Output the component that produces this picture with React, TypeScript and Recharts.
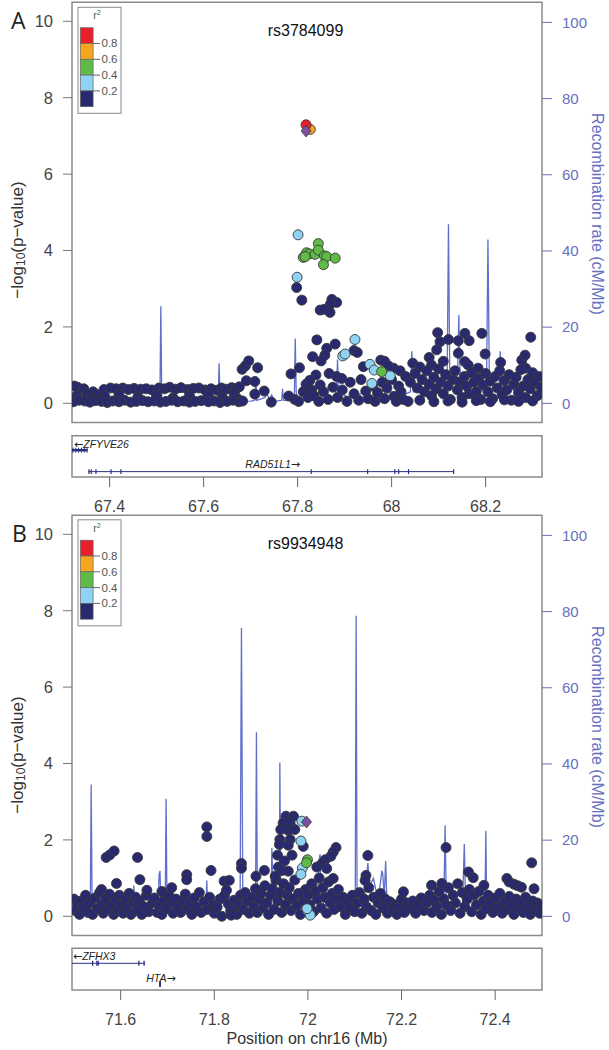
import { ComposedChart, Scatter, Line, XAxis, YAxis, ReferenceArea, ReferenceLine, ReferenceDot } from 'recharts'

type Pt = [number, number]

const NAVY = '#29296f'
const LBLUE = '#8fd2f2'
const GREEN = '#5fba46'
const ORANGE = '#f7a51e'
const RED = '#e9202a'
const PURPLE = '#7d4f9f'
const RECOMB = '#5e6fcc'
const AXISBLUE = '#6870bf'
const BORDER = '#8a8a8a'
const GENE = '#2b2f80'

// ---------- panel A (rs3784099) ----------
const aRange: Pt = [67.32, 68.32]
const aTicks = [67.4, 67.6, 67.8, 68, 68.2]

const aNavy: Pt[] = [
  // left band
  [67.325, 0.45], [67.332, 0.42], [67.345, 0.38], [67.352, 0.25], [67.365, 0.3], [67.378, 0.22], [67.388, 0.36], [67.402, 0.4],
  [67.414, 0.38], [67.428, 0.4], [67.44, 0.36], [67.452, 0.39], [67.466, 0.37], [67.478, 0.38], [67.49, 0.35], [67.505, 0.4],
  [67.517, 0.38], [67.528, 0.42], [67.54, 0.37], [67.552, 0.41], [67.566, 0.36], [67.578, 0.39], [67.59, 0.4], [67.603, 0.35],
  [67.616, 0.38], [67.628, 0.34], [67.638, 0.4], [67.648, 0.37], [67.66, 0.41], [67.668, 0.36], [67.676, 0.43],
  [67.33, 0.2], [67.36, 0.12], [67.39, 0.18], [67.42, 0.22], [67.46, 0.16], [67.5, 0.2], [67.535, 0.14], [67.57, 0.19],
  [67.61, 0.21], [67.64, 0.15], [67.665, 0.25], [67.672, 0.12],
  [67.323, 0.04], [67.335, 0.08], [67.347, 0.06], [67.358, 0.03], [67.37, 0.07], [67.383, 0.05], [67.395, 0.02], [67.407, 0.06],
  [67.42, 0.04], [67.432, 0.08], [67.445, 0.03], [67.457, 0.05], [67.47, 0.07], [67.482, 0.04], [67.495, 0.06], [67.508, 0.03],
  [67.52, 0.05], [67.532, 0.08], [67.545, 0.04], [67.558, 0.06], [67.57, 0.03], [67.582, 0.05], [67.595, 0.07], [67.61, 0.04],
  [67.622, 0.06], [67.635, 0.02], [67.65, 0.05], [67.662, 0.08], [67.675, 0.04], [67.683, 0.06],
  // 67.68 - 67.80
  [67.682, 0.89], [67.689, 0.98], [67.696, 1.11], [67.715, 0.93], [67.691, 0.59], [67.709, 0.57], [67.709, 0.24], [67.729, 0.32],
  [67.744, 0.03], [67.786, 0.77], [67.804, 0.93], [67.781, 0.19], [67.794, 0.1], [67.802, 0.05],
  // peak region
  [67.798, 3.03], [67.809, 2.7], [67.873, 2.72], [67.883, 2.64], [67.87, 2.6], [67.848, 2.44], [67.857, 2.46], [67.869, 2.38],
  [67.841, 1.66], [67.88, 1.55], [67.862, 1.44], [67.858, 1.26], [67.832, 1.22], [67.85, 1.11], [67.839, 0.74], [67.867, 0.78],
  [67.883, 0.7], [67.894, 0.65], [67.83, 0.35], [67.848, 0.48], [67.92, 1.38], [67.927, 1.33], [67.977, 1.13], [68.004, 0.92],
  [68.018, 0.85], [67.94, 0.96], [67.985, 1.1], [67.993, 0.98],
  [67.812, 0.3], [67.818, 0.5], [67.822, 0.15], [67.826, 0.6], [67.835, 0.2], [67.845, 0.05], [67.855, 0.3], [67.865, 0.1],
  [67.875, 0.42], [67.885, 0.15], [67.895, 0.35], [67.905, 0.05], [67.912, 0.55], [67.92, 0.25], [67.93, 0.08], [67.935, 0.62],
  [67.945, 0.32], [67.95, 0.12], [67.96, 0.45], [67.965, 0.05], [67.97, 0.28], [67.98, 0.55], [67.985, 0.12], [67.99, 0.4],
  [68.0, 0.62], [68.005, 0.18], [68.01, 0.05], [68.015, 0.45], [68.02, 0.3], [68.025, 0.1],
  // right side
  [68.098, 1.85], [68.103, 1.61], [68.121, 1.67], [68.096, 1.4], [68.08, 1.2], [68.045, 1.05], [68.142, 1.64], [68.156, 1.83],
  [68.165, 1.64], [68.192, 1.83], [68.142, 1.31], [68.156, 1.09], [68.199, 1.29], [68.163, 1.0], [68.184, 0.92], [68.232, 1.07],
  [68.277, 1.13], [68.284, 1.26], [68.296, 1.73], [68.285, 0.92], [68.06, 0.95], [68.085, 1.0], [68.11, 1.1],
  [68.03, 0.7], [68.04, 0.55], [68.05, 0.78], [68.055, 0.4], [68.065, 0.62], [68.07, 0.3], [68.075, 0.85], [68.08, 0.5],
  [68.085, 0.2], [68.09, 0.68], [68.095, 0.38], [68.1, 0.9], [68.105, 0.55], [68.11, 0.25], [68.115, 0.75], [68.12, 0.45],
  [68.125, 0.1], [68.13, 0.62], [68.135, 0.85], [68.14, 0.35], [68.145, 0.55], [68.15, 0.15], [68.155, 0.7], [68.16, 0.45],
  [68.165, 0.25], [68.17, 0.8], [68.175, 0.55], [68.18, 0.3], [68.185, 0.65], [68.19, 0.1], [68.195, 0.48], [68.2, 0.78],
  [68.205, 0.3], [68.21, 0.58], [68.215, 0.12], [68.22, 0.7], [68.225, 0.4], [68.23, 0.85], [68.235, 0.22], [68.24, 0.6],
  [68.245, 0.35], [68.25, 0.75], [68.255, 0.08], [68.26, 0.5], [68.265, 0.68], [68.27, 0.28], [68.275, 0.88], [68.28, 0.45],
  [68.285, 0.15], [68.29, 0.62], [68.295, 0.38], [68.3, 0.8], [68.305, 0.55], [68.31, 0.2], [68.315, 0.7], [68.318, 0.42],
  [68.035, 0.05], [68.06, 0.08], [68.09, 0.04], [68.12, 0.06], [68.15, 0.03], [68.18, 0.07], [68.21, 0.04], [68.24, 0.09],
  [68.27, 0.05], [68.3, 0.06],
]
const aLightBlue: Pt[] = [
  [67.801, 4.41], [67.799, 3.3], [67.922, 1.67], [67.896, 1.24], [67.901, 1.29], [67.954, 1.02], [67.963, 0.87], [67.997, 0.72], [67.958, 0.52],
]
const aGreen: Pt[] = [
  [67.844, 4.18], [67.819, 3.94], [67.825, 3.91], [67.837, 3.9], [67.844, 4.01], [67.812, 3.82], [67.857, 3.86], [67.862, 3.84],
  [67.88, 3.8], [67.855, 3.63], [67.816, 3.84], [67.979, 0.83],
]
const aOrange: Pt[] = [[67.827, 7.17]]
const aRed: Pt[] = [[67.818, 7.29]]
const aIndex: Pt[] = [[67.818, 7.13]]

const aRecomb: Pt[] = [
  [67.32, 0.8], [67.34, 0.6], [67.36, 0.5], [67.4, 0.4], [67.45, 0.5], [67.5, 0.6], [67.507, 0.8], [67.509, 25.5], [67.511, 0.8],
  [67.53, 0.5], [67.58, 0.4], [67.62, 0.6], [67.631, 0.8], [67.633, 10.5], [67.635, 0.8], [67.66, 0.5], [67.7, 0.6], [67.709, 0.8],
  [67.711, 7.2], [67.713, 0.8], [67.73, 1.5], [67.735, 2.5], [67.74, 1.0], [67.745, 2.2], [67.75, 0.5], [67.766, 0.8], [67.768, 3.8],
  [67.77, 0.8], [67.785, 0.8], [67.793, 1.0], [67.795, 17], [67.797, 3], [67.8, 1.0], [67.82, 0.8], [67.85, 0.8], [67.88, 1.2],
  [67.883, 5], [67.885, 11.5], [67.887, 3], [67.9, 2], [67.92, 1.5], [67.94, 3], [67.96, 2], [67.98, 2.5], [68.0, 3], [68.02, 2],
  [68.04, 3], [68.043, 13.7], [68.046, 3], [68.055, 3], [68.059, 8], [68.062, 3], [68.08, 4], [68.1, 3], [68.118, 4], [68.121, 47],
  [68.124, 4], [68.13, 6], [68.14, 5], [68.143, 23.2], [68.146, 5], [68.16, 4], [68.18, 5], [68.19, 3], [68.202, 5], [68.205, 43],
  [68.208, 6], [68.22, 5], [68.229, 5], [68.231, 13.7], [68.234, 5], [68.25, 4], [68.27, 3], [68.29, 5], [68.31, 4], [68.32, 3],
]

// genes A: [start, end]
const aZfyve26: Pt = [67.32, 67.353]
const aZfyve26Exons = [67.322, 67.328, 67.334, 67.34, 67.346, 67.352]
const aRad51l1: Pt = [67.355, 68.132]
const aRad51l1Exons = [67.356, 67.361, 67.371, 67.403, 67.424, 67.829, 67.949, 68.007, 68.015, 68.036, 68.132]

// ---------- panel B (rs9934948) ----------
const bRange: Pt = [71.496, 72.5]
const bTicks = [71.6, 71.8, 72, 72.2, 72.4]

const bNavy: Pt[] = [
  [71.5, 0.45], [71.503, 0.15], [71.508, 0.3], [71.512, 0.05], [71.515, 0.4], [71.52, 0.22], [71.525, 0.55], [71.53, 0.1],
  [71.535, 0.35], [71.54, 0.05], [71.545, 0.48], [71.55, 0.2], [71.555, 0.62], [71.56, 0.32], [71.563, 0.08], [71.568, 0.45],
  [71.572, 0.18], [71.576, 0.58], [71.58, 0.28], [71.585, 0.05], [71.589, 0.4], [71.593, 0.15], [71.597, 0.55], [71.6, 0.3],
  [71.605, 0.08], [71.61, 0.45], [71.614, 0.2], [71.618, 0.6], [71.622, 0.05], [71.627, 0.35], [71.632, 0.5], [71.636, 0.15],
  [71.64, 0.4], [71.645, 0.05], [71.65, 0.25], [71.655, 0.55], [71.66, 0.12], [71.668, 0.35], [71.672, 0.48], [71.678, 0.1],
  [71.683, 0.3], [71.688, 0.05], [71.693, 0.42], [71.698, 0.2], [71.703, 0.55], [71.708, 0.35], [71.712, 0.08], [71.718, 0.45],
  [71.722, 0.25], [71.728, 0.1], [71.733, 0.4], [71.738, 0.58], [71.742, 0.2], [71.748, 0.35], [71.752, 0.05], [71.757, 0.48],
  [71.762, 0.25], [71.768, 0.62], [71.772, 0.1], [71.778, 0.38], [71.785, 0.18], [71.79, 0.5], [71.797, 0.3], [71.8, 0.08],
  [71.812, 0.45], [71.822, 0.55], [71.826, 0.68], [71.83, 0.32], [71.835, 0.15], [71.842, 0.42], [71.848, 0.05], [71.852, 0.3],
  [71.856, 0.55], [71.862, 0.18], [71.866, 0.62], [71.87, 0.4], [71.875, 0.08], [71.88, 0.5], [71.884, 0.25], [71.888, 0.72],
  [71.892, 0.1], [71.896, 0.45], [71.9, 0.6], [71.904, 0.22], [71.908, 0.8], [71.912, 0.35], [71.916, 0.05], [71.92, 0.55],
  [71.924, 0.72], [71.928, 0.18], [71.932, 0.95], [71.936, 0.4], [71.94, 0.62], [71.944, 0.1], [71.948, 0.85], [71.952, 0.3],
  [71.956, 0.55], [71.96, 0.75], [71.964, 0.15], [71.968, 0.45], [71.972, 0.95], [71.976, 0.28], [71.98, 0.6], [71.984, 0.05],
  [71.99, 0.4], [71.995, 0.7], [72.0, 0.55], [72.004, 0.3], [72.008, 0.85], [72.012, 0.12], [72.016, 0.65], [72.02, 0.45],
  [72.024, 1.0], [72.028, 0.22], [72.032, 0.75], [72.036, 0.5], [72.04, 0.08], [72.044, 0.9], [72.048, 0.35], [72.052, 0.6],
  [72.056, 0.18], [72.06, 0.45], [72.065, 0.7], [72.07, 0.25], [72.075, 0.5], [72.08, 0.05], [72.085, 0.4], [72.09, 0.2],
  [72.095, 0.55], [72.1, 0.12], [72.105, 0.35], [72.11, 0.62], [72.115, 0.08], [72.12, 0.45], [72.125, 0.25], [72.13, 0.75],
  [72.135, 0.15], [72.14, 0.5], [72.145, 0.05], [72.15, 0.35], [72.155, 0.6], [72.16, 0.22], [72.165, 0.45], [72.17, 0.08],
  [72.175, 0.38], [72.18, 0.18], [72.186, 0.3], [72.19, 0.05], [72.196, 0.25], [72.2, 0.45], [72.206, 0.1], [72.212, 0.35],
  [72.218, 0.22], [72.224, 0.4], [72.23, 0.08], [72.236, 0.3], [72.242, 0.48], [72.248, 0.15], [72.254, 0.35], [72.26, 0.55],
  [72.265, 0.1], [72.27, 0.42], [72.275, 0.25], [72.28, 0.65], [72.285, 0.05], [72.29, 0.45], [72.295, 0.3], [72.3, 0.75],
  [72.305, 0.15], [72.31, 0.55], [72.315, 0.35], [72.32, 0.85], [72.325, 0.08], [72.33, 0.62], [72.335, 0.25], [72.34, 0.45],
  [72.345, 0.7], [72.35, 0.12], [72.355, 0.55], [72.36, 0.3], [72.365, 0.65], [72.37, 0.05], [72.375, 0.4], [72.38, 0.2],
  [72.385, 0.55], [72.39, 0.35], [72.395, 0.1], [72.4, 0.48], [72.405, 0.25], [72.41, 0.6], [72.415, 0.08], [72.42, 0.38],
  [72.425, 0.18], [72.43, 0.52], [72.435, 0.3], [72.44, 0.05], [72.445, 0.45], [72.45, 0.22], [72.455, 0.35], [72.46, 0.1],
  [72.465, 0.5], [72.47, 0.28], [72.475, 0.05], [72.48, 0.4], [72.485, 0.15], [72.49, 0.35], [72.495, 0.08], [72.498, 0.3],
  // raised points
  [71.569, 1.54], [71.577, 1.61], [71.586, 1.71], [71.636, 1.54], [71.641, 0.96], [71.591, 0.86], [71.784, 2.34], [71.784, 2.09],
  [71.793, 1.2], [71.741, 1.09], [71.741, 0.96], [71.858, 1.38], [71.858, 1.26], [71.907, 1.2], [71.889, 1.05], [71.821, 0.92],
  [71.832, 0.94], [71.806, 0.24], [71.816, 0.0], [71.836, 0.03],
  [71.953, 2.62], [71.969, 2.62], [71.947, 2.44], [71.962, 2.44], [71.942, 2.27], [71.958, 2.25], [71.972, 2.27], [71.94, 2.01],
  [71.962, 2.01], [71.99, 1.83], [71.939, 1.88], [71.935, 1.6], [71.958, 1.86], [71.937, 1.29], [71.945, 1.2], [71.958, 1.18],
  [71.95, 1.45], [71.966, 1.6], [71.93, 1.05],
  [72.06, 1.8], [72.054, 1.68], [72.049, 1.57], [72.037, 1.48], [72.03, 1.38], [72.019, 1.29], [72.04, 1.25], [72.054, 0.99],
  [72.128, 1.59], [72.124, 1.07], [72.122, 0.94], [72.295, 1.8], [72.343, 1.16], [72.353, 1.01], [72.286, 0.86], [72.264, 0.81],
  [72.425, 0.99], [72.43, 0.9], [72.44, 0.84], [72.448, 0.8], [72.456, 0.76], [72.478, 1.4], [72.483, 0.72], [72.376, 0.81],
  [72.204, 0.64], [71.688, 0.65], [71.709, 0.75], [71.656, 0.68], [71.559, 0.7],
]
const bLightBlue: Pt[] = [
  [71.987, 2.49], [71.985, 1.97], [71.988, 1.26], [71.985, 1.1], [72.0, 0.13], [72.005, 0.03], [71.998, 0.2],
]
const bGreen: Pt[] = [[71.999, 1.48], [71.997, 1.4]]
const bIndex: Pt[] = [[71.997, 2.47]]

const bRecomb: Pt[] = [
  [71.496, 1], [71.51, 0.8], [71.53, 0.8], [71.535, 2], [71.537, 34.6], [71.539, 2], [71.55, 1], [71.58, 1.5], [71.6, 2], [71.62, 1.5],
  [71.626, 2], [71.628, 8.1], [71.63, 2], [71.64, 4], [71.645, 1.5], [71.66, 1], [71.68, 2], [71.682, 11], [71.684, 11.9], [71.686, 2],
  [71.695, 1.5], [71.697, 30.9], [71.699, 1.5], [71.72, 1], [71.75, 0.5], [71.78, 0.8], [71.782, 2], [71.784, 9.4], [71.786, 1],
  [71.8, 0.5], [71.83, 0.5], [71.855, 1], [71.858, 75.7], [71.861, 1], [71.875, 2], [71.888, 2], [71.89, 48.3], [71.892, 2],
  [71.905, 3], [71.921, 3], [71.923, 18], [71.926, 3], [71.935, 3], [71.939, 3], [71.94, 40.4], [71.942, 3], [71.96, 4], [71.975, 3],
  [71.99, 2], [72.005, 3], [72.02, 4], [72.024, 15], [72.026, 16.3], [72.028, 4], [72.05, 3], [72.07, 2], [72.09, 2], [72.101, 2],
  [72.103, 78.9], [72.105, 2], [72.115, 3], [72.122, 6], [72.128, 14], [72.132, 8], [72.14, 10], [72.15, 4], [72.158, 12], [72.16, 11],
  [72.163, 5], [72.166, 14.5], [72.169, 3], [72.18, 2], [72.2, 1], [72.25, 0.8], [72.29, 1], [72.293, 23.9], [72.296, 1], [72.31, 1.5],
  [72.33, 1.5], [72.334, 19], [72.337, 2], [72.35, 1.5], [72.36, 2], [72.378, 2], [72.38, 22.5], [72.382, 2], [72.4, 1.5], [72.44, 1],
  [72.47, 1.5], [72.5, 1],
]

const bZfhx3: Pt = [71.496, 71.652]
const bZfhx3Exons = [71.54, 71.549, 71.552, 71.639, 71.65]
const bHta: Pt = [71.683, 71.685]

const toSnp = (pts: Pt[]) => pts.map(([pos, logp]) => ({ pos, logp }))
const toRate = (pts: Pt[]) => pts.map(([pos, rate]) => ({ pos, rate }))

const circle = (fill: string) => (p: any) => (
  <circle cx={p.cx} cy={p.cy} r={5} fill={fill} stroke="#3a3a3a" strokeWidth={0.9} />
)
const diamond = (p: any) => (
  <polygon
    points={`${p.cx},${p.cy - 6} ${p.cx + 5},${p.cy} ${p.cx},${p.cy + 6} ${p.cx - 5},${p.cy}`}
    fill={PURPLE}
    stroke="#3a3a3a"
    strokeWidth={0.8}
  />
)

interface MainProps {
  top: number
  range: Pt
  navy: Pt[]
  lblue: Pt[]
  green: Pt[]
  orange: Pt[]
  red: Pt[]
  index: Pt[]
  recomb: Pt[]
}

function MainPlot({ top, range, navy, lblue, green, orange, red, index, recomb }: MainProps) {
  return (
    <div style={{ position: 'absolute', left: 0, top }}>
      <ComposedChart width={609} height={425} margin={{ top: 2.2, right: 0, bottom: 2.6, left: 0 }}>
        <XAxis type="number" dataKey="pos" domain={range} allowDataOverflow hide />
        <YAxis
          yAxisId="left"
          dataKey="logp"
          type="number"
          width={72}
          domain={[-0.5, 10.5]}
          allowDataOverflow
          ticks={[0, 2, 4, 6, 8, 10]}
          axisLine={false}
          tickSize={9}
          tickMargin={10}
          tickLine={{ stroke: '#777' }}
          tick={{ fill: '#444', fontSize: 16.5 }}
        />
        <YAxis
          yAxisId="right"
          orientation="right"
          dataKey="rate"
          type="number"
          width={67}
          domain={[-5, 105.3]}
          allowDataOverflow
          ticks={[0, 20, 40, 60, 80, 100]}
          axisLine={false}
          tickSize={10}
          tickMargin={10}
          tickLine={{ stroke: AXISBLUE }}
          tick={{ fill: AXISBLUE, fontSize: 15 }}
        />
        <ReferenceArea
          yAxisId="left"
          x1={range[0]}
          x2={range[1]}
          y1={-0.5}
          y2={10.5}
          fill="none"
          stroke={BORDER}
          strokeWidth={1.5}
          ifOverflow="visible"
        />
        <Line
          yAxisId="right"
          data={toRate(recomb)}
          dataKey="rate"
          stroke={RECOMB}
          strokeWidth={1.3}
          dot={false}
          activeDot={false}
          isAnimationActive={false}
        />
        <Scatter yAxisId="left" data={toSnp(navy)} dataKey="logp" shape={circle(NAVY)} isAnimationActive={false} />
        <Scatter yAxisId="left" data={toSnp(lblue)} dataKey="logp" shape={circle(LBLUE)} isAnimationActive={false} />
        <Scatter yAxisId="left" data={toSnp(green)} dataKey="logp" shape={circle(GREEN)} isAnimationActive={false} />
        <Scatter yAxisId="left" data={toSnp(orange)} dataKey="logp" shape={circle(ORANGE)} isAnimationActive={false} />
        <Scatter yAxisId="left" data={toSnp(red)} dataKey="logp" shape={circle(RED)} isAnimationActive={false} />
        <Scatter yAxisId="left" data={toSnp(index)} dataKey="logp" shape={diamond} isAnimationActive={false} />
      </ComposedChart>
    </div>
  )
}

// gene name with an arrow on the side of its strand
const geneText = (name: string, arrow: 'left' | 'right', anchor: 'start' | 'middle') => (p: any) => (
  <text x={p.cx} y={p.cy} textAnchor={anchor} dominantBaseline="central" fontSize={10.5} fontStyle="italic" fill="#222">
    {arrow === 'left' && <tspan fontFamily="'DejaVu Sans', sans-serif" fontStyle="normal" fontSize={11}>{'\u2190'}</tspan>}
    {name}
    {arrow === 'right' && <tspan fontFamily="'DejaVu Sans', sans-serif" fontStyle="normal" fontSize={11}>{'\u2192'}</tspan>}
  </text>
)

function GeneTrackA() {
  return (
    <div style={{ position: 'absolute', left: 0, top: 430 }}>
      <ComposedChart width={609} height={90} margin={{ top: 5.7, right: 67, bottom: 0, left: 72 }}>
        <XAxis
          type="number"
          dataKey="pos"
          domain={aRange}
          allowDataOverflow
          ticks={aTicks}
          height={43}
          axisLine={false}
          tickSize={10}
          tickMargin={13.5}
          tickLine={{ stroke: '#666' }}
          tick={{ fill: '#444', fontSize: 16 }}
        />
        <YAxis type="number" domain={[0, 1]} hide />
        <ReferenceArea x1={aRange[0]} x2={aRange[1]} y1={0} y2={1} fill="none" stroke={BORDER} strokeWidth={1.5} ifOverflow="visible" />
        <Line
          data={[{ pos: aRad51l1[0], g: 0.13 }, { pos: aRad51l1[1], g: 0.13 }]}
          dataKey="g"
          stroke={GENE}
          strokeWidth={1}
          dot={false}
          activeDot={false}
          isAnimationActive={false}
        />
        <ReferenceArea x1={aZfyve26[0]} x2={aZfyve26[1]} y1={0.62} y2={0.68} fill={GENE} fillOpacity={1} stroke="none" />
        {aZfyve26Exons.map((e) => (
          <ReferenceLine key={'z' + e} segment={[{ x: e, y: 0.59 }, { x: e, y: 0.71 }]} stroke={GENE} strokeWidth={1} />
        ))}
        {aRad51l1Exons.map((e) => (
          <ReferenceLine key={'r' + e} segment={[{ x: e, y: 0.07 }, { x: e, y: 0.19 }]} stroke={GENE} strokeWidth={1.2} />
        ))}
        <ReferenceDot x={67.3243} y={0.81} r={0} shape={geneText('ZFYVE26', 'left', 'start')} />
        <ReferenceDot x={67.747} y={0.31} r={0} shape={geneText('RAD51L1', 'right', 'middle')} />
      </ComposedChart>
    </div>
  )
}

function GeneTrackB() {
  return (
    <div style={{ position: 'absolute', left: 0, top: 940 }}>
      <ComposedChart width={609} height={110} margin={{ top: 8.3, right: 67, bottom: 0, left: 72 }}>
        <XAxis
          type="number"
          dataKey="pos"
          domain={bRange}
          allowDataOverflow
          ticks={bTicks}
          height={60}
          axisLine={false}
          tickSize={10}
          tickMargin={13.5}
          tickLine={{ stroke: '#666' }}
          tick={{ fill: '#444', fontSize: 16 }}
          label={{ value: 'Position on chr16 (Mb)', position: 'insideBottom', offset: 6.3, fill: '#333', fontSize: 16 }}
        />
        <YAxis type="number" domain={[0, 1]} hide />
        <ReferenceArea x1={bRange[0]} x2={bRange[1]} y1={0} y2={1} fill="none" stroke={BORDER} strokeWidth={1.5} ifOverflow="visible" />
        <Line
          data={[{ pos: bZfhx3[0], g: 0.64 }, { pos: bZfhx3[1], g: 0.64 }]}
          dataKey="g"
          stroke={GENE}
          strokeWidth={1}
          dot={false}
          activeDot={false}
          isAnimationActive={false}
        />
        {bZfhx3Exons.map((e) => (
          <ReferenceLine key={'f' + e} segment={[{ x: e, y: 0.58 }, { x: e, y: 0.7 }]} stroke={GENE} strokeWidth={1.3} />
        ))}
        <ReferenceArea x1={bHta[0]} x2={bHta[1]} y1={0.08} y2={0.2} fill={GENE} fillOpacity={1} stroke={GENE} />
        <ReferenceDot x={71.498} y={0.82} r={0} shape={geneText('ZFHX3', 'left', 'start')} />
        <ReferenceDot x={71.686} y={0.29} r={0} shape={geneText('HTA', 'right', 'middle')} />
      </ComposedChart>
    </div>
  )
}

const legendColors = [RED, ORANGE, GREEN, LBLUE, NAVY]
const legendLabels = ['0.8', '0.6', '0.4', '0.2']

function Legend({ y }: { y: number }) {
  return (
    <g transform={`translate(0, ${y})`}>
      <rect x={78} y={0} width={43} height={106} fill="#fff" stroke={BORDER} strokeWidth={1} />
      <text x={97} y={12} fontSize={10.5} fill="#555" textAnchor="middle">
        r<tspan fontSize={7} dy={-4}>2</tspan>
      </text>
      {legendColors.map((c, i) => (
        <rect key={c} x={80.3} y={20.4 + i * 15.8} width={12.8} height={15.8} fill={c} stroke="#666" strokeWidth={0.7} />
      ))}
      {legendLabels.map((l, i) => (
        <g key={l}>
          <line x1={93} x2={100} y1={36.2 + i * 15.8} y2={36.2 + i * 15.8} stroke="#666" strokeWidth={1} />
          <text x={101.5} y={40.2 + i * 15.8} fontSize={11.5} fill="#555">
            {l}
          </text>
        </g>
      ))}
    </g>
  )
}

function Overlay() {
  return (
    <svg width={609} height={1050} style={{ position: 'absolute', left: 0, top: 0, pointerEvents: 'none' }}>
      <text x={11} y={28.5} fontSize={23} fontFamily="'Open Sans', sans-serif" fill="#222">A</text>
      <text x={12} y={541.5} fontSize={23} fontFamily="'Open Sans', sans-serif" fill="#222">B</text>
      <text x={305.5} y={36} fontSize={16} textAnchor="middle" fill="#111">rs3784099</text>
      <text x={305.5} y={549} fontSize={16} textAnchor="middle" fill="#111">rs9934948</text>
      <Legend y={7.3} />
      <Legend y={519.8} />
      {[240, 755].map((cy) => (
        <text key={cy} transform={`translate(17, ${cy}) rotate(-90)`} textAnchor="middle" dominantBaseline="central" fontSize={17} fill="#333">
          {'\u2212log'}
          <tspan fontSize={12} dy={4}>10</tspan>
          <tspan dy={-4}>{'(p\u2212value)'}</tspan>
        </text>
      ))}
      {[214, 727].map((cy) => (
        <text key={cy} transform={`translate(597, ${cy}) rotate(90)`} textAnchor="middle" dominantBaseline="central" fontSize={16} fill={AXISBLUE}>
          Recombination rate (cM/Mb)
        </text>
      ))}
    </svg>
  )
}

export default function App() {
  return (
    <div
      style={{
        position: 'absolute',
        left: 0,
        top: 0,
        width: 609,
        height: 1050,
        background: '#fff',
        fontFamily: "'Liberation Sans', Arial, sans-serif",
      }}
    >
      <MainPlot top={0} range={aRange} navy={aNavy} lblue={aLightBlue} green={aGreen} orange={aOrange} red={aRed} index={aIndex} recomb={aRecomb} />
      <GeneTrackA />
      <MainPlot top={513} range={bRange} navy={bNavy} lblue={bLightBlue} green={bGreen} orange={[]} red={[]} index={bIndex} recomb={bRecomb} />
      <GeneTrackB />
      <Overlay />
    </div>
  )
}
